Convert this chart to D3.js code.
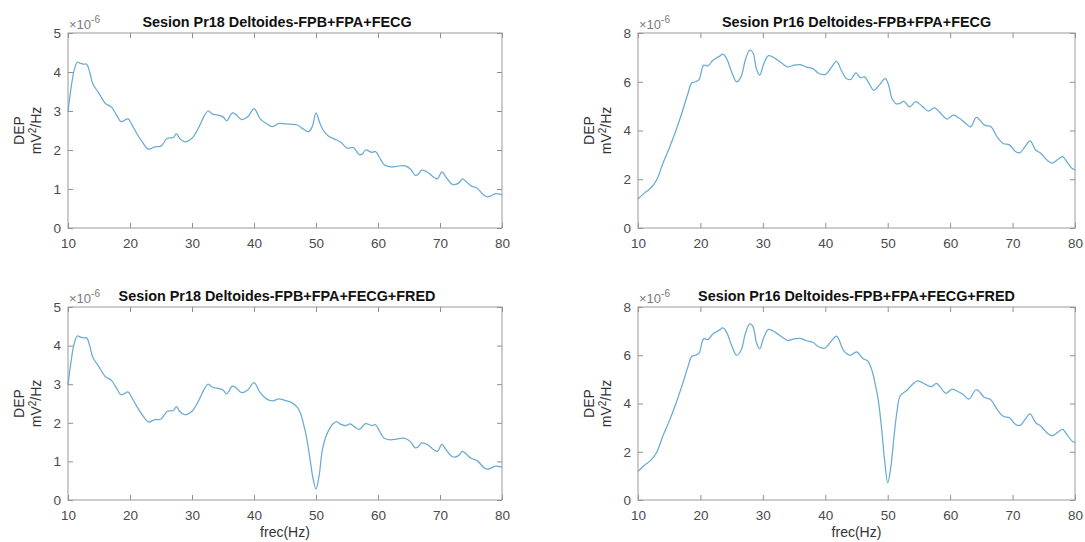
<!DOCTYPE html>
<html><head><meta charset="utf-8">
<script src="https://cdn.jsdelivr.net/npm/d3@7"></script>
<style>
body{margin:0;background:#fff}
text{font-family:"Liberation Sans",Arial,Helvetica,sans-serif}
</style>
</head><body>
<svg id="chart" width="1085" height="542"></svg>
<script>
// ---------- data (PSD values in units of 1e-6 mV^2/Hz) ----------
const xTicks = [10,20,30,40,50,60,70,80];
const yTicksPr18 = [0,1,2,3,4,5];
const yTicksPr16 = [0,2,4,6,8];
const titles = [
  "Sesion Pr18 Deltoides-FPB+FPA+FECG",
  "Sesion Pr16 Deltoides-FPB+FPA+FECG",
  "Sesion Pr18 Deltoides-FPB+FPA+FECG+FRED",
  "Sesion Pr16 Deltoides-FPB+FPA+FECG+FRED"
];
const xLabel = "frec(Hz)";
const exponentLabel = "-6";

const freqPr18 = [10,10.5,11,11.5,12,12.5,13,13.5,14,15,16,17,18,18.5,19,19.7,20.3,21,22,23,24,25,26,27,27.5,28,28.8,30,31,32,32.6,33.3,34,35,35.6,36.5,37,38,39,40,41,42,43,44,45,46,47,48,48.8,49.4,50,50.6,51.2,52,53,54,55,56,57,57.5,58,59,59.6,60.2,61,62,63,64,64.6,65.3,66,66.5,67,68,69,69.6,70.3,71,72,73,73.6,74.3,75,76,77,77.6,78.3,79,80];
const psdPr18 = [2.98,3.6,4.05,4.25,4.22,4.2,4.2,4.0,3.7,3.45,3.2,3.1,2.85,2.73,2.75,2.8,2.65,2.45,2.2,2.02,2.08,2.1,2.3,2.32,2.42,2.3,2.21,2.3,2.55,2.88,3.0,2.92,2.9,2.85,2.75,2.95,2.92,2.78,2.85,3.06,2.8,2.68,2.6,2.68,2.67,2.66,2.64,2.53,2.47,2.6,2.95,2.7,2.5,2.36,2.28,2.2,2.05,2.06,1.88,1.9,2.0,1.94,1.96,1.82,1.62,1.57,1.58,1.6,1.58,1.5,1.35,1.38,1.48,1.43,1.3,1.26,1.44,1.3,1.12,1.15,1.26,1.18,1.08,1.02,0.85,0.8,0.83,0.88,0.85];

const freqPr18Red = [10,10.5,11,11.5,12,12.5,13,13.5,14,15,16,17,18,18.5,19,19.7,20.3,21,22,23,24,25,26,27,27.5,28,28.8,30,31,32,32.6,33.3,34,35,35.6,36.5,37,38,39,40,41,42,43,44,45,46,47,47.5,48,48.5,49,49.5,50,50.5,51,51.5,52,52.7,53.3,54,54.8,55.5,56.2,57,58,59,59.6,60.2,61,62,63,64,64.6,65.3,66,66.5,67,68,69,69.6,70.3,71,72,73,73.6,74.3,75,76,77,77.6,78.3,79,80];
const psdPr18Red = [2.98,3.6,4.05,4.25,4.22,4.2,4.2,4.0,3.7,3.45,3.2,3.1,2.85,2.73,2.75,2.8,2.65,2.45,2.2,2.02,2.08,2.1,2.3,2.32,2.42,2.3,2.21,2.3,2.55,2.88,3.0,2.92,2.9,2.85,2.75,2.95,2.92,2.78,2.85,3.04,2.78,2.62,2.57,2.62,2.58,2.53,2.4,2.25,1.96,1.6,1.1,0.58,0.28,0.63,1.27,1.6,1.79,1.97,2.03,1.96,1.93,1.97,1.9,1.83,1.98,1.93,1.95,1.8,1.6,1.56,1.58,1.6,1.58,1.5,1.35,1.38,1.48,1.43,1.3,1.26,1.44,1.3,1.12,1.15,1.26,1.18,1.08,1.02,0.85,0.8,0.83,0.88,0.85];

const freqPr16 = [10,11,12,13,14,15,16,17,18,18.6,19.2,19.8,20.5,21.2,22,23,23.6,24.2,25,25.8,26.5,27.2,27.9,28.4,29,29.5,30.1,30.9,32,33,34,35,36,37,38,39,40,41,41.8,42.6,43.4,44.1,44.9,45.6,46.3,47,47.8,48.6,49.6,50.1,50.7,51.3,52,52.6,53.5,54.5,55.5,56.5,57.5,58.5,59.5,60.5,61.5,62.5,63.3,64.2,65.5,66.5,67.5,68.5,69.5,70.5,71.2,72,72.8,73.7,74.5,75.5,76.3,77.3,78,78.8,79.5,80];
const psdPr16 = [1.19,1.43,1.63,1.98,2.66,3.27,3.95,4.7,5.52,5.95,6.0,6.1,6.68,6.65,6.88,7.04,7.13,6.95,6.4,6.0,6.2,6.9,7.3,7.2,6.5,6.27,6.7,7.07,6.95,6.77,6.61,6.68,6.7,6.6,6.54,6.34,6.3,6.6,6.84,6.45,6.13,6.1,6.36,6.17,6.2,5.93,5.65,5.85,6.13,5.9,5.3,5.1,5.12,5.2,4.97,5.18,5.0,4.8,4.93,4.7,4.47,4.63,4.5,4.29,4.15,4.54,4.22,4.16,3.75,3.47,3.41,3.13,3.09,3.34,3.57,3.2,3.07,2.79,2.66,2.82,2.93,2.68,2.45,2.38];

const freqPr16Red = [10,11,12,13,14,15,16,17,18,18.6,19.2,19.8,20.5,21.2,22,23,23.6,24.2,25,25.8,26.5,27.2,27.9,28.4,29,29.5,30.1,30.9,32,33,34,35,36,37,38,39,40,41,41.8,43,44,45,46,46.8,47.5,48,48.5,49,49.5,50,50.5,51,51.5,52,53,54,54.8,56,57,57.8,58.5,59.3,60.3,61,62,63,64.2,65.5,66.5,67.5,68.5,69.5,70.5,71.2,72,72.8,73.7,74.5,75.5,76.3,77.3,78,78.8,79.5,80];
const psdPr16Red = [1.19,1.43,1.63,1.98,2.66,3.27,3.95,4.7,5.52,5.95,6.0,6.1,6.68,6.65,6.88,7.04,7.13,6.95,6.4,6.0,6.2,6.9,7.3,7.2,6.5,6.27,6.7,7.07,6.95,6.77,6.61,6.68,6.7,6.6,6.54,6.34,6.3,6.6,6.79,6.17,6.0,6.14,5.87,5.76,5.35,4.8,4.12,3.02,1.65,0.71,1.37,2.61,3.7,4.32,4.53,4.8,4.94,4.8,4.7,4.83,4.66,4.42,4.6,4.53,4.39,4.18,4.57,4.25,4.16,3.77,3.47,3.41,3.13,3.09,3.34,3.57,3.2,3.07,2.79,2.66,2.82,2.93,2.68,2.45,2.38];

// ---------- layout ----------
const panels = [
  {title:titles[0], f:freqPr18,    v:psdPr18,    yt:yTicksPr18, x0:68,  x1:502,  y0:33,  y1:228, xl:false, tdx:-8},
  {title:titles[1], f:freqPr16,    v:psdPr16,    yt:yTicksPr16, x0:638, x1:1075, y0:33,  y1:228, xl:false, tdx:0},
  {title:titles[2], f:freqPr18Red, v:psdPr18Red, yt:yTicksPr18, x0:68,  x1:502,  y0:307, y1:500, xl:true,  tdx:-8},
  {title:titles[3], f:freqPr16Red, v:psdPr16Red, yt:yTicksPr16, x0:638, x1:1075, y0:307, y1:500, xl:true,  tdx:0}
];

const svg = d3.select("#chart");
svg.append("rect").attr("width",1085).attr("height",542).attr("fill","#fff");

const tickCol = "#8f8f8f", labCol = "#4a4a4a";

panels.forEach(p => {
  const ymax = p.yt[p.yt.length-1];
  const x = d3.scaleLinear().domain([10,80]).range([p.x0,p.x1]);
  const y = d3.scaleLinear().domain([0,ymax]).range([p.y1,p.y0]);
  const g = svg.append("g");

  const styleAxis = (sel, showText) => {
    sel.select(".domain").remove();
    sel.selectAll(".tick line").attr("stroke",tickCol).attr("stroke-width",1);
    sel.selectAll(".tick text").attr("fill",labCol).style("font-size","13.5px")
      .style("display", showText ? null : "none");
  };

  g.append("g").attr("transform",`translate(0,${p.y1})`)
    .call(d3.axisBottom(x).tickValues(xTicks).tickSize(-5).tickPadding(10).tickFormat(d3.format("d")))
    .call(s=>styleAxis(s,true));
  g.append("g").attr("transform",`translate(0,${p.y0})`)
    .call(d3.axisTop(x).tickValues(xTicks).tickSize(-5))
    .call(s=>styleAxis(s,false));
  g.append("g").attr("transform",`translate(${p.x0},0)`)
    .call(d3.axisLeft(y).tickValues(p.yt).tickSize(-5).tickPadding(7).tickFormat(d3.format("d")))
    .call(s=>styleAxis(s,true));
  g.append("g").attr("transform",`translate(${p.x1},0)`)
    .call(d3.axisRight(y).tickValues(p.yt).tickSize(-5))
    .call(s=>styleAxis(s,false));

  // box
  g.append("rect").attr("x",p.x0).attr("y",p.y0)
    .attr("width",p.x1-p.x0).attr("height",p.y1-p.y0)
    .attr("fill","none").attr("stroke","#9a9a9a").attr("stroke-width",1);

  // curve
  const line = d3.line().x((d,i)=>x(p.f[i])).y(d=>y(d)).curve(d3.curveCatmullRom.alpha(0.5));
  g.append("path").datum(p.v).attr("d",line)
    .attr("fill","none").attr("stroke","#68abd3").attr("stroke-width",1.25);

  // title
  g.append("text").attr("x",(p.x0+p.x1)/2 + p.tdx).attr("y",p.y0-6)
    .attr("text-anchor","middle").attr("fill","#111")
    .style("font-size","14.4px").style("font-weight","bold").text(p.title);

  // exponent
  const ex = g.append("text").attr("x",p.x0+1).attr("y",p.y0-4)
    .attr("fill","#7a7a7a").style("font-size","13px");
  ex.append("tspan").text("\u00d710");
  ex.append("tspan").attr("dy",-6).style("font-size","10px").text(exponentLabel);

  // y label
  const ym = (p.y0+p.y1)/2;
  g.append("text").attr("transform",`translate(${p.x0-44},${ym}) rotate(-90)`)
    .attr("text-anchor","middle").attr("fill","#333").style("font-size","14px").text("DEP");
  const t2 = g.append("text").attr("transform",`translate(${p.x0-27},${ym}) rotate(-90)`)
    .attr("text-anchor","middle").attr("fill","#333").style("font-size","14px");
  t2.append("tspan").text("mV");
  t2.append("tspan").attr("dy",-5).style("font-size","10px").text("2");
  t2.append("tspan").attr("dy",5).text("/Hz");

  if (p.xl) {
    g.append("text").attr("x",(p.x0+p.x1)/2).attr("y",p.y1+37)
      .attr("text-anchor","middle").attr("fill","#333").style("font-size","14px").text(xLabel);
  }
});
</script>
</body></html>
